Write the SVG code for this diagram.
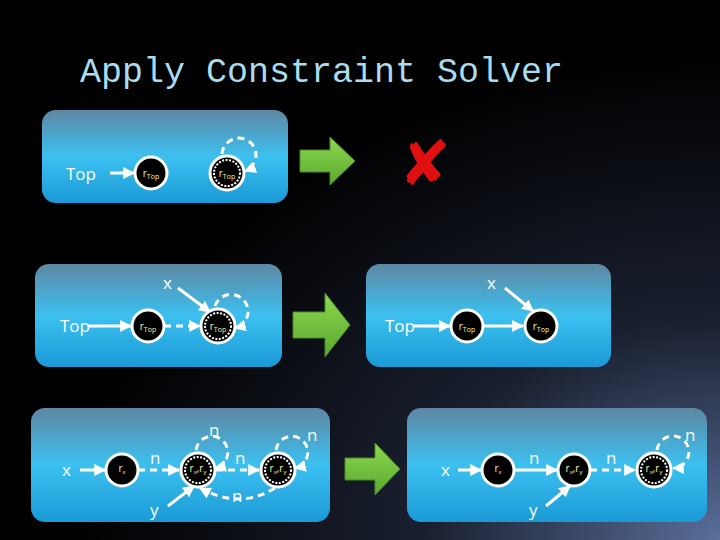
<svg xmlns="http://www.w3.org/2000/svg" width="720" height="540" viewBox="0 0 720 540">
<defs>
<radialGradient id="bg" cx="1" cy="1" r="0.9"><stop offset="0" stop-color="#5a6e9a"/><stop offset="0.45" stop-color="#1a2030"/><stop offset="1" stop-color="#000"/></radialGradient>
<linearGradient id="pn" x1="0" y1="0" x2="0" y2="1"><stop offset="0" stop-color="#5e87a2"/><stop offset="0.5" stop-color="#3cc0f0"/><stop offset="1" stop-color="#1a9ad6"/></linearGradient>
<linearGradient id="gr" x1="0" y1="0" x2="0" y2="1"><stop offset="0" stop-color="#8cd850"/><stop offset="1" stop-color="#5aa830"/></linearGradient>
<marker id="ah" viewBox="0 0 10 10" refX="9" refY="5" markerWidth="4" markerHeight="4" orient="auto"><path d="M0,0 L10,5 L0,10 z" fill="#fff"/></marker>
<style>
.pn{fill:url(#pn)}
.e{stroke:#fff;stroke-width:3;fill:none;marker-end:url(#ah)}
.d{stroke:#fff;stroke-width:3;fill:none;stroke-dasharray:7,5;marker-end:url(#ah)}
.n{fill:#000;stroke:#fff;stroke-width:3}
.o{fill:none;stroke:#fff;stroke-width:2;stroke-dasharray:2,1.5}
.t{font-family:"Open Sans","DejaVu Sans",sans-serif;fill:#fff;font-size:17px}
.l{font-family:"Open Sans","DejaVu Sans",sans-serif;fill:#f6f4a8;font-size:10px;text-anchor:middle}
.ga{fill:url(#gr);stroke:#4a8a28;stroke-width:1}
</style>
</defs>
<rect width="720" height="540" fill="url(#bg)"/>
<text x="80" y="82" font-family="Liberation Mono,monospace" font-size="35" fill="#a9dcee">Apply Constraint Solver</text>

<g id="p1">
<rect class="pn" x="42" y="110" width="246" height="93" rx="14"/>
<text class="t" x="66" y="180">Top</text>
<line class="e" x1="110" y1="173" x2="134" y2="173"/>
<circle class="n" cx="151" cy="173" r="16"/><text class="l" x="151" y="177">r<tspan font-size="7" dy="2">Top</tspan></text>
<path class="d" d="M222,154 A17,17 0 1 1 245,171"/>
<circle class="n" cx="227" cy="173" r="17"/><circle class="o" cx="227" cy="173" r="13"/><text class="l" x="227" y="177">r<tspan font-size="7" dy="2">Top</tspan></text>
</g>
<g id="ar1"><path class="ga" d="M300,150 H330 V137 L355,161 L330,185 V172 H300 Z"/></g>
<g id="cross"><text x="425" y="185" font-family="DejaVu Sans,sans-serif" font-size="62" fill="#e01010" text-anchor="middle" font-weight="bold">✘</text></g>

<g id="p2l">
<rect class="pn" x="35" y="264" width="247" height="103" rx="14"/>
<text class="t" x="60" y="332">Top</text>
<line class="e" x1="88" y1="326" x2="131" y2="326"/>
<circle class="n" cx="148" cy="326" r="16"/><text class="l" x="148" y="330">r<tspan font-size="7" dy="2">Top</tspan></text>
<line class="d" x1="164" y1="326" x2="200" y2="326"/>
<text class="t" x="163" y="289" font-size="13">x</text>
<line class="e" x1="178" y1="288" x2="210" y2="312"/>
<path class="d" d="M215,306 A17,17 0 1 1 235,328"/>
<circle class="n" cx="218" cy="326" r="17"/><circle class="o" cx="218" cy="326" r="13"/><text class="l" x="218" y="330">r<tspan font-size="7" dy="2">Top</tspan></text>
</g>
<g id="ar2"><path class="ga" d="M293,312 H325 V293 L350,325 L325,357 V338 H293 Z"/></g>
<g id="p2r">
<rect class="pn" x="366" y="264" width="245" height="103" rx="14"/>
<text class="t" x="385" y="332">Top</text>
<line class="e" x1="413" y1="326" x2="450" y2="326"/>
<circle class="n" cx="467" cy="326" r="16"/><text class="l" x="467" y="330">r<tspan font-size="7" dy="2">Top</tspan></text>
<line class="e" x1="483" y1="326" x2="523" y2="326"/>
<text class="t" x="487" y="289" font-size="13">x</text>
<line class="e" x1="505" y1="288" x2="533" y2="311"/>
<circle class="n" cx="541" cy="326" r="16"/><text class="l" x="541" y="330">r<tspan font-size="7" dy="2">Top</tspan></text>
</g>

<g id="p3l">
<rect class="pn" x="31" y="408" width="299" height="114" rx="14"/>
<text class="t" x="62" y="476" font-size="14">x</text>
<line class="e" x1="80" y1="470" x2="105" y2="470"/>
<circle class="n" cx="122" cy="470" r="16"/><text class="l" x="122" y="472">r<tspan font-size="6" dy="2">x</tspan></text>
<line class="d" x1="138" y1="470" x2="179" y2="470"/>
<text class="t" x="150" y="464" font-size="13">n</text>
<path class="d" d="M196,450 A16,16 0 1 1 215,468"/>
<text class="t" x="209" y="436" font-size="13">n</text>
<line class="d" x1="216" y1="470" x2="259" y2="470"/>
<text class="t" x="235" y="464" font-size="13">n</text>
<path class="d" d="M276,450 A16,16 0 1 1 295,468"/>
<text class="t" x="307" y="441" font-size="13">n</text>
<path class="d" d="M275,488 Q240,510 200,488"/>
<text class="t" x="232" y="502" font-size="13">n</text>
<text class="t" x="150" y="516" font-size="14">y</text>
<line class="e" x1="168" y1="506" x2="194" y2="486"/>
<circle class="n" cx="198" cy="470" r="17"/><circle class="o" cx="198" cy="470" r="13"/><text class="l" x="198" y="472">r<tspan font-size="6" dy="2">x</tspan><tspan dy="-2">,r</tspan><tspan font-size="6" dy="2">y</tspan></text>
<circle class="n" cx="278" cy="470" r="17"/><circle class="o" cx="278" cy="470" r="13"/><text class="l" x="278" y="472">r<tspan font-size="6" dy="2">x</tspan><tspan dy="-2">,r</tspan><tspan font-size="6" dy="2">y</tspan></text>
</g>
<g id="ar3"><path class="ga" d="M345,458 H375 V443 L400,469 L375,495 V480 H345 Z"/></g>
<g id="p3r">
<rect class="pn" x="407" y="408" width="300" height="114" rx="14"/>
<text class="t" x="441" y="476" font-size="14">x</text>
<line class="e" x1="458" y1="470" x2="481" y2="470"/>
<circle class="n" cx="498" cy="470" r="16"/><text class="l" x="498" y="472">r<tspan font-size="6" dy="2">x</tspan></text>
<line class="e" x1="514" y1="470" x2="557" y2="470"/>
<text class="t" x="529" y="464" font-size="13">n</text>
<line class="d" x1="590" y1="470" x2="635" y2="470"/>
<text class="t" x="606" y="464" font-size="13">n</text>
<text class="t" x="529" y="516" font-size="14">y</text>
<line class="e" x1="546" y1="506" x2="570" y2="486"/>
<circle class="n" cx="574" cy="470" r="16"/><text class="l" x="574" y="472">r<tspan font-size="6" dy="2">x</tspan><tspan dy="-2">,r</tspan><tspan font-size="6" dy="2">y</tspan></text>
<path class="d" d="M657,450 A16,16 0 1 1 673,468"/>
<text class="t" x="685" y="441" font-size="13">n</text>
<circle class="n" cx="654" cy="470" r="17"/><circle class="o" cx="654" cy="470" r="13"/><text class="l" x="654" y="472">r<tspan font-size="6" dy="2">x</tspan><tspan dy="-2">,r</tspan><tspan font-size="6" dy="2">y</tspan></text>
</g>
</svg>
